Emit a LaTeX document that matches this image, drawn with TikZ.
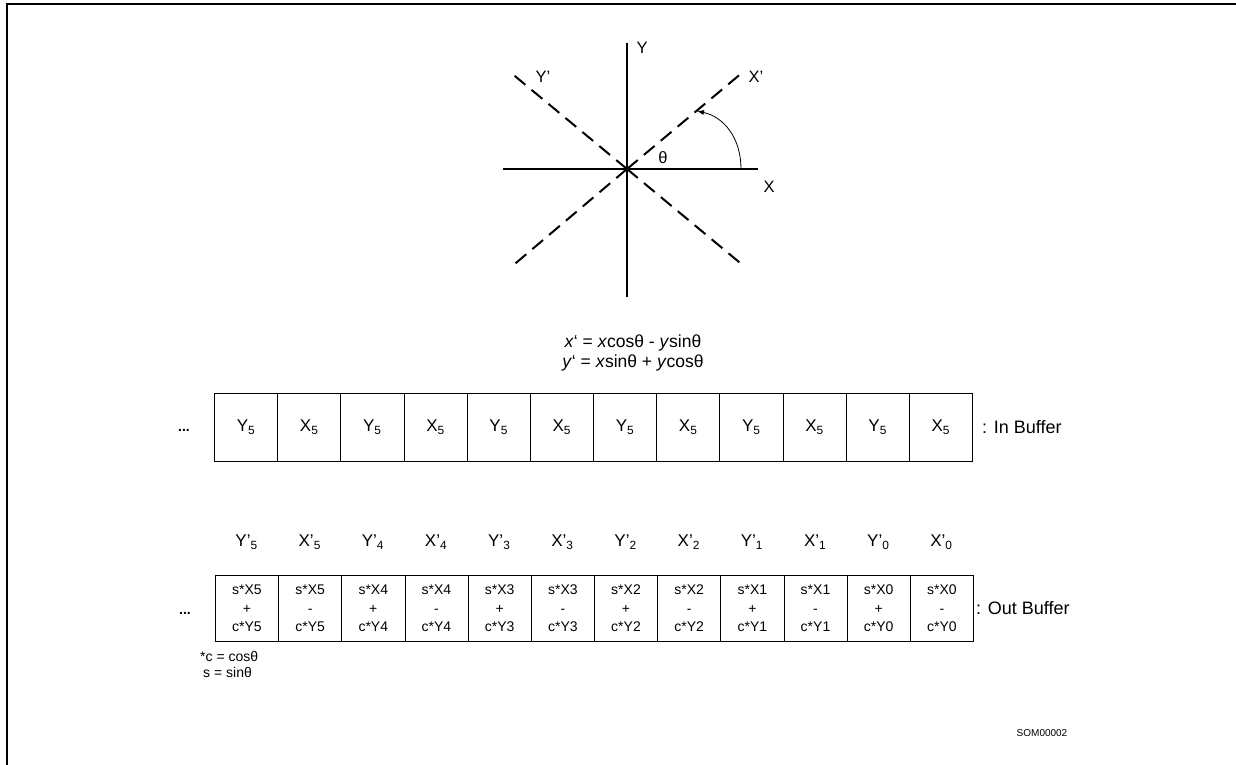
\documentclass[tikz,border=0pt]{standalone}
\usepackage{fontspec}
\setmainfont{Liberation Sans}
\usetikzlibrary{arrows.meta}
\begin{document}
\begin{tikzpicture}[x=1pt,y=-1pt,
  frame/.style={line width=2pt},
  axis/.style={line width=1.6pt},
  dashline/.style={line width=2pt, dash pattern=on 14pt off 8pt},
  axlabel/.style={inner sep=0pt, font=\fontsize{16.5}{18}\selectfont},
  cellbox/.style={draw, line width=0.8pt, minimum width=63.17pt, minimum height=68pt, inner sep=0pt, anchor=north west, font=\fontsize{17}{19}\selectfont},
  outbox/.style={draw, line width=0.8pt, minimum width=63.17pt, minimum height=66pt, inner sep=0pt, anchor=north west, align=center, font=\fontsize{14}{18.5}\selectfont},
  toplabel/.style={inner sep=0pt, font=\fontsize{17}{19}\selectfont},
  formula/.style={inner sep=0pt, font=\fontsize{17.5}{19}\selectfont},
  sidelabel/.style={inner sep=0pt, anchor=west, font=\fontsize{18}{20}\selectfont},
  dots/.style={inner sep=0pt, font=\fontsize{14}{14}\bfseries\selectfont},
  note/.style={inner sep=0pt, anchor=west, font=\fontsize{14}{16}\selectfont}
]
\useasboundingbox (0,0) rectangle (1236,765);
% frame
\draw[frame] (7,765) -- (7,4) -- (1236,4);

% axes
\coordinate (O) at (627,169);
\coordinate (ytop) at (627,43);
\coordinate (ybot) at (627,297);
\coordinate (xl) at (503,169);
\coordinate (xr) at (758,169);
\coordinate (xpe) at (743,72);
\coordinate (xpw) at (510,268);
\coordinate (ype) at (510,72);
\coordinate (ypw) at (745,267);
\draw[axis] (ytop) -- (ybot);
\draw[axis] (xl) -- (xr);
\draw[dashline] (O) -- (xpe);
\draw[dashline] (O) -- (xpw);
\draw[dashline] (O) -- (ype);
\draw[dashline] (O) -- (ypw);
\coordinate (arcs) at (741,169);
\coordinate (arce) at (697,111);
\draw[line width=0.8pt, -{Latex[length=7pt,width=5pt]}] (arcs) .. controls (741,138) and (724,117) .. (arce);
\node[axlabel] (lY) at (642,48) {Y};
\node[axlabel] (lYp) at (543,77) {Y’};
\node[axlabel] (lXp) at (756,77) {X’};
\node[axlabel] (lth) at (663,158) {θ};
\node[axlabel] (lX) at (769,187) {X};

% formulas
\node[formula] (f1) at (633,343) {\textit{x}‘ = \textit{x}cosθ - \textit{y}sinθ};
\node[formula] (f2) at (633,363) {\textit{y}‘ = \textit{x}sinθ + \textit{y}cosθ};

% in buffer
\node[dots] (indots) at (184,430) {...};
\foreach \i in {1,...,12}{
  \pgfmathsetmacro{\cx}{214+63.17*(\i-1)}
  \ifodd\i
    \node[cellbox] (in\i) at (\cx,393) {Y\textsubscript{5}};
  \else
    \node[cellbox] (in\i) at (\cx,393) {X\textsubscript{5}};
  \fi
}
\node[sidelabel] (inlab) at (982,427) {: In Buffer};

% out buffer labels
\foreach \i/\t in {1/Y’\textsubscript{5},2/X’\textsubscript{5},3/Y’\textsubscript{4},4/X’\textsubscript{4},5/Y’\textsubscript{3},6/X’\textsubscript{3},7/Y’\textsubscript{2},8/X’\textsubscript{2},9/Y’\textsubscript{1},10/X’\textsubscript{1},11/Y’\textsubscript{0},12/X’\textsubscript{0}}{
  \pgfmathsetmacro{\cx}{215+63.17*(\i-0.5)}
  \node[toplabel] (olab\i) at (\cx,542) {\t};
}

% out buffer
\node[dots] (outdots) at (185,613) {...};
\foreach \i/\k/\op in {1/5/+,2/5/-,3/4/+,4/4/-,5/3/+,6/3/-,7/2/+,8/2/-,9/1/+,10/1/-,11/0/+,12/0/-}{
  \pgfmathsetmacro{\cx}{215+63.17*(\i-1)}
  \node[outbox] (out\i) at (\cx,575) {s*X\k\\\op\\c*Y\k};
}
\node[sidelabel] (outlab) at (976,608) {: Out Buffer};

% notes
\node[note] (n1) at (200,656) {*c = cosθ};
\node[note] (n2) at (203,672) {s = sinθ};
\node[inner sep=0pt, font=\fontsize{10}{12}\selectfont] (som) at (1042,733) {SOM00002};
\end{tikzpicture}
\end{document}
